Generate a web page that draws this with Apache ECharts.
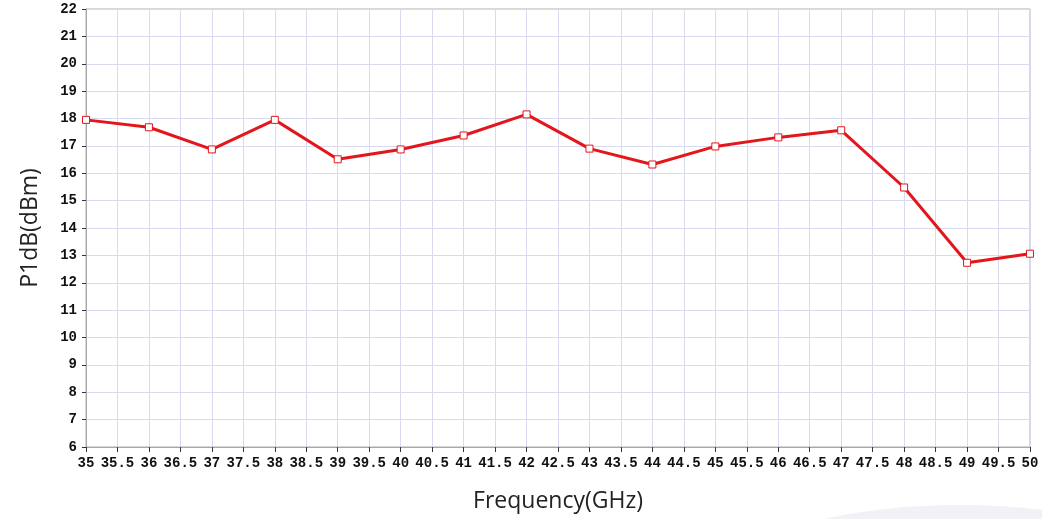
<!DOCTYPE html>
<html><head><meta charset="utf-8">
<script src="https://cdn.jsdelivr.net/npm/echarts@6/dist/echarts.min.js"></script>
<style>html,body{margin:0;padding:0;background:#fff}#c{width:1042px;height:519px}</style>
</head><body><div id="c"></div>
<script>
const frequencies = [35,36,37,38,39,40,41,42,43,44,45,46,47,48,49,50];
const p1db = [17.95,17.68,16.87,17.95,16.51,16.87,17.38,18.15,16.9,16.32,16.98,17.31,17.57,15.48,12.73,13.06];
const xTickLabels = ["35","35.5","36","36.5","37","37.5","38","38.5","39","39.5","40","40.5","41","41.5","42","42.5","43","43.5","44","44.5","45","45.5","46","46.5","47","47.5","48","48.5","49","49.5","50"];
const yTickLabels = ["6","7","8","9","10","11","12","13","14","15","16","17","18","19","20","21","22"];

const chart = echarts.init(document.getElementById('c'));
const labelFont = {fontFamily:'Liberation Mono', fontWeight:'bold', fontSize:14, color:'#111'};
chart.setOption({
  animation:false,
  graphic:[{type:'ellipse', shape:{cx:960, cy:585, rx:240, ry:80}, style:{fill:'#f2f2f6'}, z:-10}],
  grid:{left:86, right:12, top:9, bottom:72, show:true, borderColor:'#b0b0b0', borderWidth:1, backgroundColor:'transparent'},
  xAxis:{type:'value', min:35, max:50, interval:0.5,
    name:'Frequency(GHz)', nameLocation:'middle', nameGap:43,
    nameTextStyle:{fontFamily:'Open Sans', fontSize:23, color:'#222'},
    axisLine:{lineStyle:{color:'#a8a8a8'}},
    axisTick:{show:true, length:5, lineStyle:{color:'#333'}},
    axisLabel:Object.assign({margin:9, formatter:(v)=>xTickLabels[Math.round((v-35)*2)]}, labelFont),
    splitLine:{show:true, lineStyle:{color:'#d9d9ef', width:1}}
  },
  yAxis:{type:'value', min:6, max:22, interval:1,
    name:'P1dB(dBm)', nameLocation:'middle', nameGap:44, nameRotate:90,
    nameTextStyle:{fontFamily:'Open Sans', fontSize:23, color:'#222'},
    axisLine:{show:true, lineStyle:{color:'#a8a8a8'}},
    axisTick:{show:true, length:4, lineStyle:{color:'#333'}},
    axisLabel:Object.assign({margin:9, formatter:(v)=>yTickLabels[Math.round(v-6)]}, labelFont),
    splitLine:{show:true, lineStyle:{color:'#d9d9ef', width:1}}
  },
  series:[{type:'line', data:frequencies.map((f,i)=>[f,p1db[i]]),
    symbol:'rect', symbolSize:7, showSymbol:true,
    lineStyle:{color:'#e3161c', width:3},
    itemStyle:{color:'#fff', borderColor:'#e3161c', borderWidth:1},
    z:5}]
});
</script></body></html>
